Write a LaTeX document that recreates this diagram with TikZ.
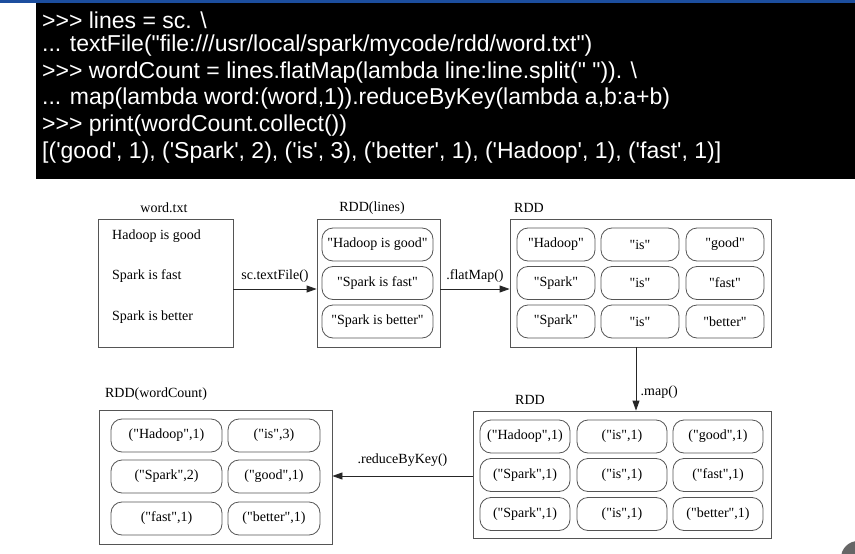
\documentclass[tikz,border=0pt]{standalone}
\usepackage{fontspec}
\setmainfont{Liberation Serif}[Ligatures=TeXOff]
\newfontfamily\codefont{Liberation Sans}[Ligatures=TeXOff]
\usetikzlibrary{arrows.meta}
\definecolor{slideblue}{RGB}{28,78,158}
\definecolor{boxgray}{RGB}{85,85,85}
\tikzset{
  codeline/.style={anchor=west, inner sep=0pt, text=white, font=\codefont\fontsize{23}{26}\selectfont},
  rddbox/.style={draw=boxgray, line width=0.8pt, inner sep=0pt},
  elem/.style={draw=boxgray, line width=0.8pt, rounded corners=11pt, minimum height=33pt, inner sep=0pt},
  lbl/.style={inner sep=1pt},
  flow/.style={draw=black!85, line width=0.8pt, -{Triangle[length=10pt,width=7pt]}}
}
\begin{document}
\begin{tikzpicture}[x=1pt, y=-1pt, font=\fontsize{14}{16}\selectfont]
\useasboundingbox (0,0) rectangle (855,554);
% slide background bits
\fill[slideblue] (0,0) rectangle (855,3);
\fill[black] (36,3) rectangle (855,179);
\begin{scope}
  \clip (0,0) rectangle (855,554);
  \fill[black!60] (858,558) circle (17);
\end{scope}
% code
\node[codeline] (code1) at (42,20) {>>> lines = sc. \textbackslash};
\node[codeline] (code2) at (42,46) {... textFile("file:///usr/local/spark/mycode/rdd/word.txt")};
\node[codeline] (code3) at (42,72.5) {>>> wordCount = lines.flatMap(lambda line:line.split(" ")). \textbackslash};
\node[codeline] (code4) at (42,99) {... map(lambda word:(word,1)).reduceByKey(lambda a,b:a+b)};
\node[codeline] (code5) at (42,125.5) {>>> print(wordCount.collect())};
\node[codeline] (code6) at (42,153) {[('good', 1), ('Spark', 2), ('is', 3), ('better', 1), ('Hadoop', 1), ('fast', 1)]};

% word.txt
\node[rddbox, minimum width=135pt, minimum height=128pt] (wordtxt) at (165.5,283) {};
\node[lbl] (wordtxtlbl) at (164,208) {word.txt};
\node[lbl, anchor=west] (line1) at (111,236) {Hadoop is good};
\node[lbl, anchor=west] (line2) at (111,276) {Spark is fast};
\node[lbl, anchor=west] (line3) at (111,317) {Spark is better};

% RDD(lines)
\node[rddbox, minimum width=123pt, minimum height=128pt] (lines) at (378.5,283) {};
\node[lbl] (lineslbl) at (372,208) {RDD(lines)};
\node[elem, minimum width=111pt] (l1) at (377.5,244.5) {"Hadoop is good"};
\node[elem, minimum width=111pt] (l2) at (377.5,283) {"Spark is fast"};
\node[elem, minimum width=111pt] (l3) at (377.5,321.5) {"Spark is better"};

% RDD after flatMap
\node[rddbox, minimum width=261pt, minimum height=128pt] (words) at (640.5,283) {};
\node[lbl] (wordslbl) at (529,208) {RDD};
\node[elem, minimum width=78pt] (w11) at (556,244.5) {"Hadoop"};
\node[elem, minimum width=78pt] (w12) at (640,244.5) {"is"};
\node[elem, minimum width=78pt] (w13) at (725,244.5) {"good"};
\node[elem, minimum width=78pt] (w21) at (556,283) {"Spark"};
\node[elem, minimum width=78pt] (w22) at (640,283) {"is"};
\node[elem, minimum width=78pt] (w23) at (725,283) {"fast"};
\node[elem, minimum width=78pt] (w31) at (556,321.5) {"Spark"};
\node[elem, minimum width=78pt] (w32) at (640,321.5) {"is"};
\node[elem, minimum width=78pt] (w33) at (725,321.5) {"better"};

% RDD after map
\node[rddbox, minimum width=298pt, minimum height=127pt] (pairs) at (622,474.5) {};
\node[lbl] (pairslbl) at (530,400) {RDD};
\node[elem, minimum width=90pt] (p11) at (525,436.5) {("Hadoop",1)};
\node[elem, minimum width=90pt] (p12) at (622,436.5) {("is",1)};
\node[elem, minimum width=90pt] (p13) at (718,436.5) {("good",1)};
\node[elem, minimum width=90pt] (p21) at (525,475) {("Spark",1)};
\node[elem, minimum width=90pt] (p22) at (622,475) {("is",1)};
\node[elem, minimum width=90pt] (p23) at (718,475) {("fast",1)};
\node[elem, minimum width=90pt] (p31) at (525,514) {("Spark",1)};
\node[elem, minimum width=90pt] (p32) at (622,514) {("is",1)};
\node[elem, minimum width=90pt] (p33) at (718,514) {("better",1)};

% RDD(wordCount)
\node[rddbox, minimum width=233pt, minimum height=134pt] (counts) at (215.5,477) {};
\node[lbl] (countslbl) at (156,394) {RDD(wordCount)};
\node[elem, minimum width=111pt] (c11) at (166.5,435.5) {("Hadoop",1)};
\node[elem, minimum width=92pt] (c12) at (274,435.5) {("is",3)};
\node[elem, minimum width=111pt] (c21) at (166.5,476.5) {("Spark",2)};
\node[elem, minimum width=92pt] (c22) at (274,476.5) {("good",1)};
\node[elem, minimum width=111pt] (c31) at (166.5,518.5) {("fast",1)};
\node[elem, minimum width=92pt] (c32) at (274,518.5) {("better",1)};

% transformations
\draw[flow] ([yshift=-6pt]wordtxt.east) -- node[above=3pt] {sc.textFile()} ([yshift=-6pt]lines.west);
\draw[flow] ([yshift=-6pt]lines.east) -- node[above=3pt] {.flatMap()} ([yshift=-6pt]words.west);
\draw[flow] ([xshift=-4.5pt]words.south) -- node[pos=0.7, right=1pt] {.map()} ([xshift=-4.5pt]words.south |- pairs.north);
\draw[flow] ([yshift=-1.5pt]pairs.west) -- node[above=6pt] {.reduceByKey()} ([yshift=-1.5pt]pairs.west -| counts.east);
\end{tikzpicture}
\end{document}
